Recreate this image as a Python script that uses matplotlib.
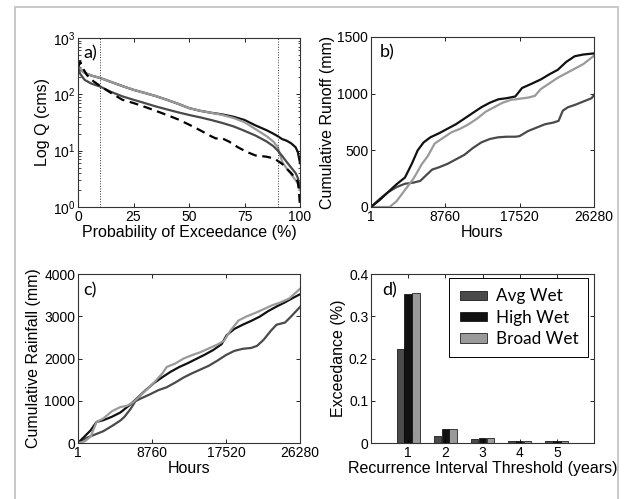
import numpy as np
import matplotlib
matplotlib.use("Agg")
import matplotlib.pyplot as plt
from matplotlib.patches import Rectangle
from matplotlib.ticker import FuncFormatter, LogLocator, NullFormatter

plt.rcParams['font.family'] = ['Liberation Sans', 'DejaVu Sans']
plt.rcParams['mathtext.default'] = 'regular'

# colours used for the three scenarios
c_avg = '#4a4a4a'
c_high = '#111111'
c_broad = '#9a9a9a'

# a) flow duration curves (probability of exceedance %, discharge cms)
fdc_broad_p = [0, 1, 3, 6, 10, 15, 20, 25, 30, 35, 40, 45, 50, 55, 60, 65, 70, 75, 80, 85, 88, 90, 91, 92, 94, 96, 98, 99, 100]
fdc_broad_q = [330, 280, 240, 215, 195, 165, 140, 120, 106, 93, 80, 68, 57, 51, 47, 43, 38, 32, 24, 18, 14.5, 11.5, 8.5, 6.3, 4.8, 3.8, 3.0, 2.6, 2.0]
fdc_high_p = [0, 1, 3, 6, 10, 15, 20, 25, 30, 35, 40, 45, 50, 55, 60, 65, 70, 75, 80, 85, 88, 90, 92, 94, 96, 98, 99, 100]
fdc_high_q = [330, 280, 240, 215, 195, 165, 140, 120, 106, 93, 80, 68, 57, 51, 47, 44, 40, 35, 28, 23, 20, 18, 16, 15, 13.5, 11.5, 9.5, 6.0]
fdc_avg_p = [0, 1, 3, 6, 10, 15, 20, 25, 30, 35, 40, 45, 50, 55, 60, 65, 70, 75, 80, 85, 88, 90, 92, 94, 96, 98, 99, 100]
fdc_avg_q = [300, 230, 180, 155, 137, 110, 92, 80, 70, 61, 54, 48, 43, 39, 35, 31, 27, 22.5, 18.5, 14.5, 12, 10, 8, 6.3, 5, 4, 3.3, 2.2]
fdc_obs_p = [0, 1, 2, 4, 7, 10, 15, 20, 25, 30, 35, 40, 45, 50, 55, 60, 62, 65, 68, 72, 76, 80, 85, 88, 90, 92, 94, 96, 98, 99, 99.5, 100]
fdc_obs_q = [300, 380, 300, 220, 170, 140, 105, 80, 70, 60, 51, 43, 36, 29, 23, 18, 16.5, 16.5, 14.5, 11.5, 9.5, 8.2, 7.8, 7.3, 6.6, 5.8, 4.8, 4.0, 3.2, 2.8, 2.0, 1.0]

# b) cumulative runoff (hours, mm)
ro_high_h = [1, 1000, 2000, 3000, 4000, 4800, 5500, 6200, 7000, 8000, 9000, 10000, 11000, 12000, 13000, 14000, 15000, 16000, 17000, 17800, 19000, 20000, 21000, 22000, 23000, 24000, 25000, 26280]
ro_high_mm = [0, 60, 130, 200, 260, 380, 500, 570, 615, 650, 690, 730, 780, 830, 880, 920, 950, 960, 975, 1050, 1090, 1125, 1170, 1210, 1280, 1330, 1345, 1355]
ro_broad_h = [1, 2200, 3000, 4000, 5000, 6000, 6700, 7500, 8500, 9500, 10500, 11500, 12500, 13500, 14500, 15500, 16500, 17500, 18500, 19300, 20000, 21000, 22000, 23000, 24000, 25000, 26280]
ro_broad_mm = [0, 0, 50, 150, 250, 380, 450, 560, 610, 660, 690, 730, 780, 840, 880, 920, 945, 955, 965, 980, 1040, 1090, 1140, 1180, 1220, 1260, 1335]
ro_avg_h = [1, 1000, 2000, 3000, 4000, 5000, 5800, 6500, 7200, 8000, 9000, 10000, 11000, 12000, 13000, 14000, 15000, 16000, 17000, 17500, 18500, 19500, 20500, 21500, 22100, 22600, 23200, 24000, 25000, 26000, 26280]
ro_avg_mm = [0, 70, 130, 175, 205, 215, 230, 280, 330, 350, 380, 420, 460, 520, 570, 600, 615, 620, 620, 625, 670, 700, 730, 745, 760, 850, 880, 900, 930, 960, 990]

# c) cumulative rainfall (hours, mm)
rf_high_h = [1, 500, 1500, 2200, 3000, 4000, 5000, 6000, 7000, 8000, 9000, 10000, 11000, 12000, 13000, 14000, 15000, 16000, 17000, 17600, 18500, 19500, 20500, 21500, 22500, 23500, 24500, 25500, 26280]
rf_high_mm = [0, 100, 300, 500, 540, 620, 720, 880, 1060, 1250, 1420, 1560, 1690, 1800, 1890, 1990, 2090, 2200, 2340, 2550, 2700, 2800, 2890, 2990, 3120, 3230, 3330, 3440, 3520]
rf_broad_h = [1, 800, 1500, 2200, 3000, 4000, 5000, 5800, 6500, 7000, 8000, 9000, 10000, 10500, 11500, 12500, 13500, 14500, 15500, 16500, 17300, 18000, 19000, 20000, 21000, 22000, 23000, 24000, 25000, 26280]
rf_broad_mm = [0, 40, 150, 500, 580, 750, 850, 880, 960, 1050, 1240, 1430, 1650, 1800, 1880, 2000, 2080, 2150, 2240, 2330, 2420, 2650, 2900, 3000, 3080, 3170, 3260, 3330, 3420, 3650]
rf_avg_h = [1, 1000, 2000, 3000, 4000, 5000, 5500, 6200, 6800, 7500, 8500, 9500, 10500, 11500, 12500, 13500, 14500, 15500, 16500, 17500, 18500, 19500, 20500, 21200, 22000, 22800, 23500, 24500, 25200, 26280]
rf_avg_mm = [0, 120, 200, 280, 400, 530, 620, 800, 990, 1060, 1150, 1250, 1320, 1430, 1550, 1650, 1740, 1830, 1950, 2080, 2180, 2230, 2250, 2300, 2450, 2650, 2800, 2850, 2990, 3220]

# d) exceedance by recurrence interval threshold
ri_years = [1, 2, 3, 4, 5]
exc_avg = [0.222, 0.017, 0.0094, 0.0055, 0.004]
exc_high = [0.353, 0.034, 0.012, 0.0055, 0.004]
exc_broad = [0.355, 0.034, 0.012, 0.0055, 0.004]

fig = plt.figure(figsize=(6.24, 4.99), dpi=100)

# light frame around the whole figure
fig.add_artist(Rectangle((0.024, -0.02), 0.966, 1.006, transform=fig.transFigure,
                         fill=False, edgecolor='#c4c4c4', lw=1.3, clip_on=False))

ax_a = fig.add_axes([0.125, 0.5852, 0.3558, 0.3387])
ax_b = fig.add_axes([0.5946, 0.5852, 0.3574, 0.3407])
ax_c = fig.add_axes([0.125, 0.1122, 0.3558, 0.3387])
ax_d = fig.add_axes([0.5946, 0.1122, 0.3574, 0.3387])

tick_fs = 10
label_fs = 11.5
panel_font = dict(family=['Lato', 'DejaVu Sans'], fontsize=13)

for ax in (ax_a, ax_b, ax_c, ax_d):
    ax.tick_params(direction='in', top=True, right=True, length=3, width=0.6, labelsize=tick_fs, pad=2)
    ax.tick_params(which='minor', direction='in', top=False, right=True, length=1.8, width=0.5)
    for s in ax.spines.values():
        s.set_linewidth(0.8)
        s.set_color('#333333')

# a)
ax_a.plot(fdc_high_p, fdc_high_q, color=c_high, lw=1.6)
ax_a.plot(fdc_broad_p, fdc_broad_q, color=c_broad, lw=1.6)
ax_a.plot(fdc_avg_p, fdc_avg_q, color=c_avg, lw=1.6)
ax_a.plot(fdc_obs_p, fdc_obs_q, color='black', lw=1.6, ls=(0, (4, 2.5)))
for xv in (0, 10, 90, 100):
    ax_a.axvline(xv, color='#333333', lw=0.7, ls=':')
ax_a.set_yscale('log')
ax_a.set_ylim(1, 1000)
ax_a.set_xlim(0, 100)
ax_a.set_xticks([0, 25, 50, 75, 100])
ax_a.yaxis.set_minor_locator(LogLocator(base=10, subs=np.arange(2, 10)))
ax_a.yaxis.set_minor_formatter(NullFormatter())
ax_a.set_yticks([1, 10, 100, 1000])
ax_a.set_yticklabels(['$10^0$', '$10^1$', '$10^2$', '$10^3$'])
ax_a.set_xlabel('Probability of Exceedance (%)', fontsize=label_fs, labelpad=1)
ax_a.set_ylabel('Log Q (cms)', fontsize=label_fs, labelpad=2)
ax_a.text(0.025, 0.955, 'a)', transform=ax_a.transAxes, va='top', ha='left', **panel_font)

# b)
ax_b.plot(ro_avg_h, ro_avg_mm, color=c_avg, lw=1.6)
ax_b.plot(ro_broad_h, ro_broad_mm, color=c_broad, lw=1.6)
ax_b.plot(ro_high_h, ro_high_mm, color=c_high, lw=1.6)
ax_b.set_xlim(1, 26280)
ax_b.set_ylim(0, 1500)
ax_b.set_xticks([1, 8760, 17520, 26280])
ax_b.set_yticks([0, 500, 1000, 1500])
ax_b.set_xlabel('Hours', fontsize=label_fs, labelpad=1)
ax_b.set_ylabel('Cumulative Runoff (mm)', fontsize=label_fs, labelpad=2)
ax_b.text(0.04, 0.955, 'b)', transform=ax_b.transAxes, va='top', ha='left', **panel_font)

# c)
ax_c.plot(rf_avg_h, rf_avg_mm, color=c_avg, lw=1.6)
ax_c.plot(rf_high_h, rf_high_mm, color=c_high, lw=1.6)
ax_c.plot(rf_broad_h, rf_broad_mm, color=c_broad, lw=1.6)
ax_c.set_xlim(1, 26280)
ax_c.set_ylim(0, 4000)
ax_c.set_xticks([1, 8760, 17520, 26280])
ax_c.set_yticks([0, 1000, 2000, 3000, 4000])
ax_c.set_xlabel('Hours', fontsize=label_fs, labelpad=1)
ax_c.set_ylabel('Cumulative Rainfall (mm)', fontsize=label_fs, labelpad=2)
ax_c.text(0.025, 0.95, 'c)', transform=ax_c.transAxes, va='top', ha='left', **panel_font)

# d)
x = np.array(ri_years)
w = 0.2
ax_d.bar(x - 0.21, exc_avg, w, color=c_avg, edgecolor='black', lw=0.5, label='Avg Wet')
ax_d.bar(x, exc_high, w, color=c_high, edgecolor='black', lw=0.5, label='High Wet')
ax_d.bar(x + 0.21, exc_broad, w, color=c_broad, edgecolor='black', lw=0.5, label='Broad Wet')
ax_d.set_xlim(0, 6)
ax_d.set_ylim(0, 0.4)
ax_d.set_xticks(ri_years)
ax_d.set_yticks([0, 0.1, 0.2, 0.3, 0.4])
ax_d.yaxis.set_major_formatter(FuncFormatter(lambda v, p: '0' if v == 0 else f'{v:.1f}'))
ax_d.set_xlabel('Recurrence Interval Threshold (years)', fontsize=label_fs, labelpad=1)
ax_d.set_ylabel('Exceedance (%)', fontsize=label_fs, labelpad=2)
ax_d.text(0.05, 0.95, 'd)', transform=ax_d.transAxes, va='top', ha='left', **panel_font)
leg = ax_d.legend(loc='upper right', bbox_to_anchor=(0.975, 0.975), borderaxespad=0,
                  fancybox=False, edgecolor='black', framealpha=1,
                  handlelength=1.6, handleheight=0.5, borderpad=0.6, labelspacing=0.3,
                  handletextpad=0.5, prop={'family': ['Lato', 'DejaVu Sans'], 'size': 12.3})
leg.get_frame().set_linewidth(0.7)

fig.savefig('out.png', dpi=100)
